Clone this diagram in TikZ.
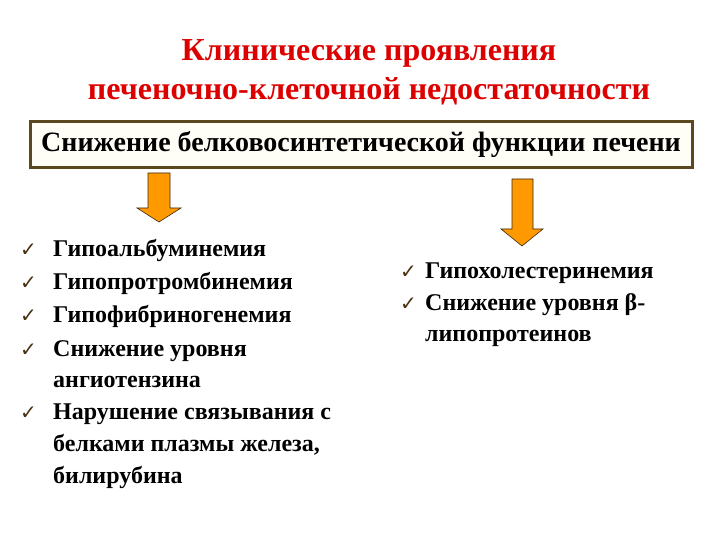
\documentclass[tikz,border=0pt]{standalone}
\usepackage{fontspec}
\setmainfont{Liberation Serif}
\newfontfamily\symfont{DejaVu Sans}
\definecolor{titlered}{RGB}{221,0,0}
\definecolor{boxbrown}{RGB}{92,72,30}
\definecolor{boxfill}{RGB}{255,254,246}
\definecolor{arroworange}{RGB}{255,153,0}
\definecolor{checkbrown}{RGB}{72,48,18}
\tikzstyle{every node}=[font=\bfseries, inner sep=0pt]
\tikzset{
  titletext/.style={text=titlered, font=\bfseries\fontsize{32}{39}\selectfont, align=center},
  headbox/.style={draw=boxbrown, line width=3pt, fill=boxfill, minimum width=662pt, minimum height=46pt, font=\bfseries\fontsize{28}{30}\selectfont},
  downarrow/.style={fill=arroworange, draw=black!70!brown, line width=0.6pt, line join=miter},
  itemtext/.style={anchor=base west, font=\bfseries\fontsize{24}{28}\selectfont},
  checkmark/.style={anchor=base west, text=checkbrown, font=\symfont\fontsize{20}{22}\selectfont}
}
\begin{document}
\begin{tikzpicture}[x=1pt, y=-1pt]
            \useasboundingbox (0,0) rectangle (720,540);

            % 标题
            \node[titletext] (title) at (369,72) {Клинические проявления\\печеночно-клеточной недостаточности};

            % 框
            \node[headbox] (head) at (361,145) {Снижение белковосинтетической функции печени};

            % 箭头
            \draw[downarrow] (148,173) -- (170,173) -- (170,208) -- (181,208) -- (159,222) -- (137,208) -- (148,208) -- cycle;
            \draw[downarrow] (512,179) -- (533,179) -- (533,229) -- (543,229) -- (522,246) -- (501,229) -- (512,229) -- cycle;

            % 左列表
            \foreach \n/\y/\t in {a/256/Гипоальбуминемия, b/289/Гипопротромбинемия, c/322/Гипофибриногенемия, d/356/Снижение уровня, e/419/Нарушение связывания с} {
                \node[checkmark] (chk-\n) at (20,\y) {✓};
                \node[itemtext] (item-\n) at (53,\y) {\t};
            }
            \node[itemtext] (item-d2) at (53,387) {ангиотензина};
            \node[itemtext] (item-e2) at (53,451) {белками плазмы железа,};
            \node[itemtext] (item-e3) at (53,483) {билирубина};

            % 右列表
            \node[checkmark] (chk-f) at (400,278) {✓};
            \node[itemtext] (item-f) at (425,278) {Гипохолестеринемия};
            \node[checkmark] (chk-g) at (400,310) {✓};
            \node[itemtext] (item-g) at (425,310) {Снижение уровня β-};
            \node[itemtext] (item-g2) at (425,341) {липопротеинов};
        \end{tikzpicture}
\end{document}
